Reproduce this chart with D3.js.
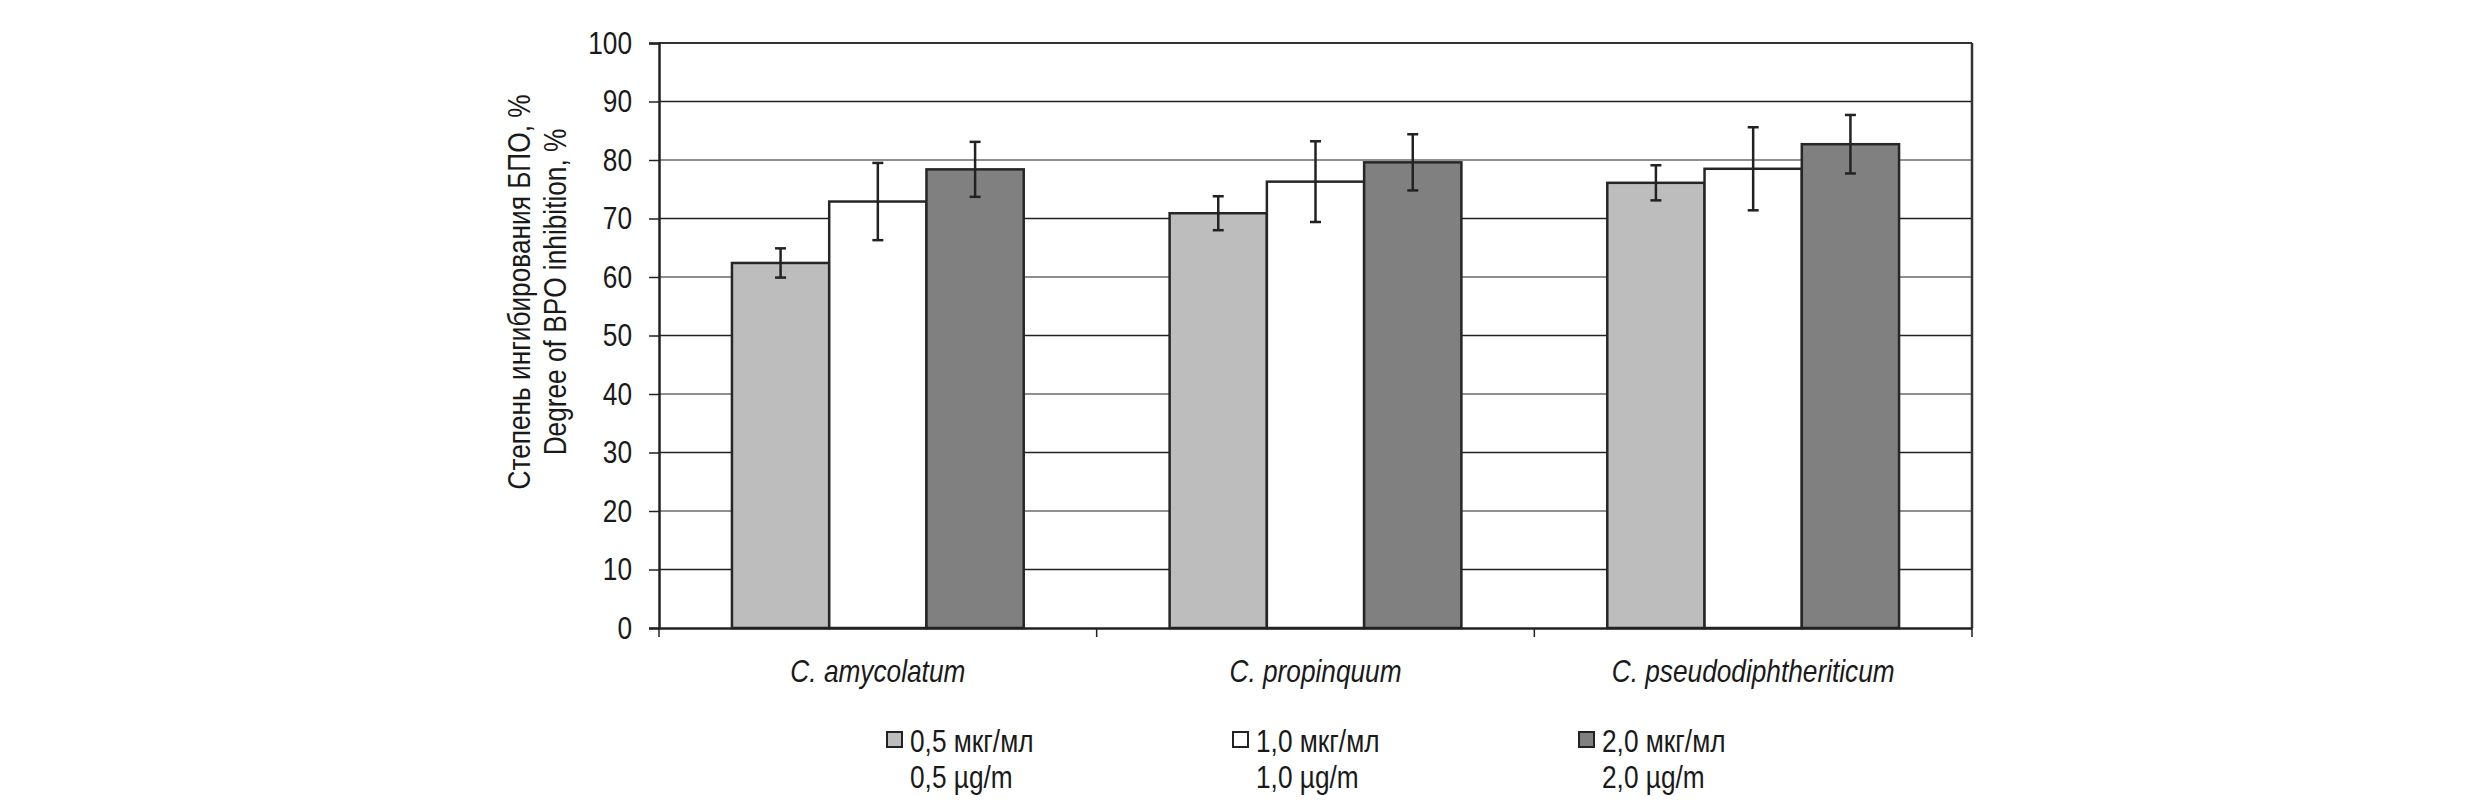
<!DOCTYPE html>
<html>
<head>
<meta charset="utf-8">
<script src="https://cdn.jsdelivr.net/npm/d3@7"></script>
<style>
  body { margin: 0; background: #fff; }
  text { font-family: "Liberation Sans", Arial, sans-serif; fill: #1a1a1a; }
</style>
</head>
<body>
<script>
// donnees
const especes = ["C. amycolatum", "C. propinquum", "C. pseudodiphtheriticum"];
const series = ["0,5", "1,0", "2,0"];
const legendeRu = ["0,5 мкг/мл", "1,0 мкг/мл", "2,0 мкг/мл"];
const legendeEn = ["0,5 µg/m", "1,0 µg/m", "2,0 µg/m"];
const valeurs = [
  [62.4, 72.9, 78.4],
  [70.9, 76.3, 79.6],
  [76.1, 78.5, 82.7]
];
const erreurs = [
  [2.5, 6.6, 4.7],
  [2.9, 6.9, 4.8],
  [3.0, 7.1, 5.0]
];
const ticksY = [0, 10, 20, 30, 40, 50, 60, 70, 80, 90, 100];
const couleurs = ["#bdbdbd", "#ffffff", "#808080"];

const width = 2480;
const height = 811;
const gauche = 659, droite = 1972, haut = 43, bas = 628;

// police etroite : on resserre le texte (Arial Narrow ~ 82% d'Arial)
function serrer(sel) {
  sel.each(function () {
    const l = this.getComputedTextLength();
    d3.select(this).attr("textLength", l * 0.82).attr("lengthAdjust", "spacingAndGlyphs");
  });
}

const svg = d3.select("body")
  .append("svg")
  .attr("width", width)
  .attr("height", height);

const x = d3.scaleBand().domain(especes).range([gauche, droite]).padding(0);
const x1 = d3.scaleBand().domain(series).range([0, x.bandwidth()]).paddingInner(0).paddingOuter(0.75);
const y = d3.scaleLinear().domain([0, 100]).range([bas, haut]);

// grille
svg.selectAll(".grille")
  .data(ticksY.filter(t => t > 0 && t < 100))
  .enter()
  .append("line")
  .attr("x1", gauche).attr("x2", droite)
  .attr("y1", d => y(d)).attr("y2", d => y(d))
  .attr("stroke", d => (d / 10) % 2 === 0 ? "#8f8f8f" : "#222")
  .attr("stroke-width", d => (d / 10) % 2 === 0 ? 2.2 : 1.5);

// cadre haut et droite
svg.append("line").attr("x1", gauche).attr("x2", droite).attr("y1", y(100)).attr("y2", y(100))
  .attr("stroke", "#333").attr("stroke-width", 2);
svg.append("line").attr("x1", droite).attr("x2", droite).attr("y1", y(100)).attr("y2", y(0))
  .attr("stroke", "#333").attr("stroke-width", 2.5);

// barres
const groupes = svg.selectAll(".groupe")
  .data(especes)
  .enter()
  .append("g")
  .attr("transform", d => `translate(${x(d)},0)`);

groupes.selectAll("rect")
  .data((d, i) => series.map((s, j) => ({ s: s, v: valeurs[i][j], e: erreurs[i][j], j: j })))
  .enter()
  .append("rect")
  .attr("x", d => x1(d.s))
  .attr("y", d => y(d.v))
  .attr("width", x1.bandwidth())
  .attr("height", d => y(0) - y(d.v))
  .attr("fill", d => couleurs[d.j])
  .attr("stroke", "#262626")
  .attr("stroke-width", 2.5);

// barres d'erreur
const eb = groupes.selectAll(".err")
  .data((d, i) => series.map((s, j) => ({ s: s, v: valeurs[i][j], e: erreurs[i][j] })))
  .enter()
  .append("g")
  .attr("stroke", "#222")
  .attr("stroke-width", 2.5);

eb.append("line")
  .attr("x1", d => x1(d.s) + x1.bandwidth() / 2)
  .attr("x2", d => x1(d.s) + x1.bandwidth() / 2)
  .attr("y1", d => y(d.v + d.e))
  .attr("y2", d => y(d.v - d.e));
eb.append("line")
  .attr("x1", d => x1(d.s) + x1.bandwidth() / 2 - 5.5)
  .attr("x2", d => x1(d.s) + x1.bandwidth() / 2 + 5.5)
  .attr("y1", d => y(d.v + d.e)).attr("y2", d => y(d.v + d.e));
eb.append("line")
  .attr("x1", d => x1(d.s) + x1.bandwidth() / 2 - 5.5)
  .attr("x2", d => x1(d.s) + x1.bandwidth() / 2 + 5.5)
  .attr("y1", d => y(d.v - d.e)).attr("y2", d => y(d.v - d.e));

// axe Y
const axeY = svg.append("g")
  .attr("transform", `translate(${gauche},0)`)
  .call(d3.axisLeft(y).tickValues(ticksY).tickSize(10).tickPadding(17));
axeY.select(".domain").attr("stroke", "#222").attr("stroke-width", 2.5);
axeY.selectAll(".tick line").attr("stroke", "#222").attr("stroke-width", 1.5);
axeY.selectAll(".tick text").attr("font-size", 32).attr("font-family", null).attr("fill", "#1a1a1a")
  .call(serrer);

// axe X
const axeX = svg.append("g")
  .attr("transform", `translate(0,${bas})`)
  .call(d3.axisBottom(x).tickSize(0).tickPadding(31));
axeX.select(".domain").attr("stroke", "#222").attr("stroke-width", 2.5);
axeX.selectAll(".tick text")
  .attr("font-size", 32).attr("font-family", null)
  .attr("font-style", "italic").attr("fill", "#1a1a1a")
  .call(serrer);

// petites marques entre les categories
svg.selectAll(".sep")
  .data(especes.concat(["fin"]))
  .enter()
  .append("line")
  .attr("x1", (d, i) => i < especes.length ? x(d) : x.range()[1])
  .attr("x2", (d, i) => i < especes.length ? x(d) : x.range()[1])
  .attr("y1", bas).attr("y2", bas + 9)
  .attr("stroke", "#222").attr("stroke-width", 1.5);

// titre de l'axe Y
const titre = svg.append("text")
  .attr("transform", "translate(530,292) rotate(-90)")
  .attr("text-anchor", "middle")
  .attr("font-size", 32);
titre.append("tspan").attr("x", 0).attr("y", 0).text("Степень ингибирования БПО, %");
titre.append("tspan").attr("x", 0).attr("y", 36).text("Degree of BPO inhibition, %");
titre.selectAll("tspan").call(serrer);

// legende
const legX = d3.scalePoint().domain(series).range([887, 1579]);
const leg = svg.selectAll(".leg")
  .data(series)
  .enter()
  .append("g")
  .attr("transform", d => `translate(${legX(d)},732)`);

leg.append("rect")
  .attr("width", 15).attr("height", 15)
  .attr("fill", (d, i) => couleurs[i])
  .attr("stroke", "#222").attr("stroke-width", 2);

leg.append("text")
  .attr("x", 23).attr("y", 20)
  .attr("font-size", 32)
  .text((d, i) => legendeRu[i])
  .call(serrer);
leg.append("text")
  .attr("x", 23).attr("y", 56)
  .attr("font-size", 32)
  .text((d, i) => legendeEn[i])
  .call(serrer);
</script>
</body>
</html>
